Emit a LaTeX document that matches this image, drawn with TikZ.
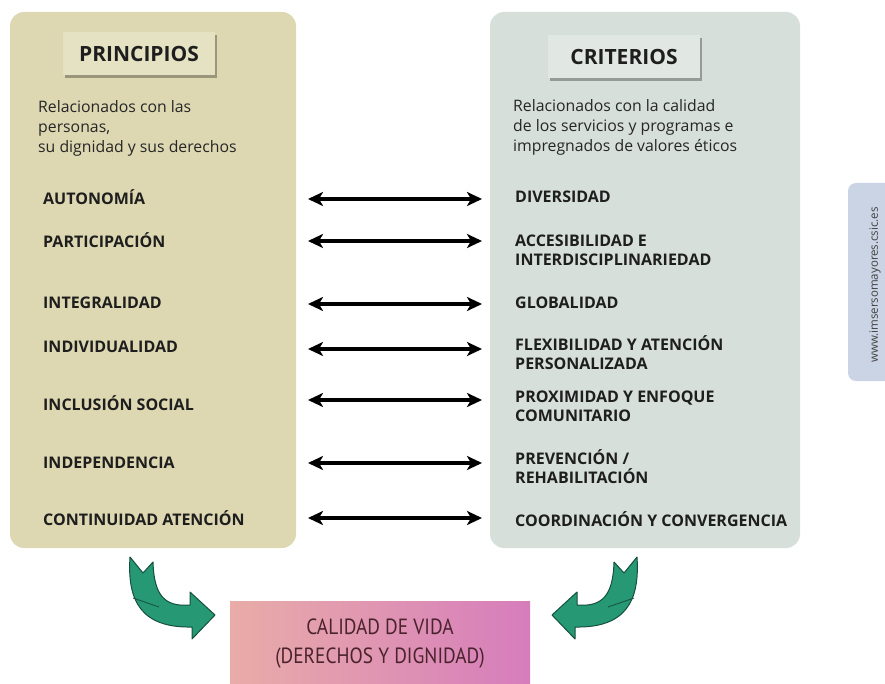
\documentclass[tikz,border=0pt]{standalone}
\usepackage{fontspec}
\setmainfont{Open Sans}
\newfontfamily\condfont[FakeStretch=0.88]{PT Sans}
\usetikzlibrary{arrows.meta,shadows}
\definecolor{princbeige}{RGB}{221,216,178}
\definecolor{princtitle}{RGB}{229,225,195}
\definecolor{critgray}{RGB}{214,223,218}
\definecolor{crittitle}{RGB}{225,232,227}
\definecolor{swooshgreen}{RGB}{38,152,116}
\definecolor{swooshline}{RGB}{22,80,62}
\definecolor{lifepink}{RGB}{233,172,168}
\definecolor{lifemagenta}{RGB}{214,125,188}
\definecolor{lifetext}{RGB}{75,35,45}
\definecolor{urlblue}{RGB}{203,212,228}
\definecolor{itemtext}{RGB}{30,30,30}

\begin{document}
\begin{tikzpicture}[x=1pt,y=-1pt,
    panel/.style={rounded corners=14pt,inner sep=0pt},
    titlebox/.style={inner sep=0pt,minimum width=152pt,minimum height=43pt,
        font=\fontsize{21}{25}\selectfont\bfseries,text=itemtext,
        drop shadow={shadow xshift=2pt,shadow yshift=-3pt,opacity=0.3,fill=black}},
    bodytext/.style={anchor=west,align=left,inner sep=0pt,
        font=\fontsize{15.8}{20}\selectfont,text=black!85},
    item/.style={anchor=west,align=left,inner sep=0pt,
        font=\fontsize{16}{19}\selectfont\bfseries,text=itemtext},
    biarrow/.style={line width=3.5pt,
        {Stealth[length=15pt,width=14pt,inset=4pt]}-{Stealth[length=15pt,width=14pt,inset=4pt]}},
    swoosh/.style={fill=swooshgreen,draw=swooshline,line width=1pt,line join=round}]

    \useasboundingbox (0,0) rectangle (885,684);

    % Panels
    \node[panel,fill=princbeige,minimum width=286pt,minimum height=536pt] (princpanel) at (153,280) {};
    \node[panel,fill=critgray,minimum width=310pt,minimum height=536pt] (critpanel) at (645,280) {};

    % Titles
    \node[titlebox,fill=princtitle] (princtitle) at (139,54) {PRINCIPIOS};
    \node[titlebox,fill=crittitle] (crittitle) at (624,57) {CRITERIOS};

    % Descriptions
    \node[bodytext] (princdesc) at (38,128) {Relacionados con las\\personas,\\su dignidad y sus derechos};
    \node[bodytext] (critdesc) at (513,127) {Relacionados con la calidad\\de los servicios y programas e\\impregnados de valores éticos};

    % Principios
    \node[item] (p1) at (43,197) {AUTONOMÍA};
    \node[item] (p2) at (43,240) {PARTICIPACIÓN};
    \node[item] (p3) at (43,303) {INTEGRALIDAD};
    \node[item] (p4) at (43,347) {INDIVIDUALIDAD};
    \node[item] (p5) at (43,403) {INCLUSIÓN SOCIAL};
    \node[item] (p6) at (43,463) {INDEPENDENCIA};
    \node[item] (p7) at (43,518) {CONTINUIDAD ATENCIÓN};

    % Criterios
    \node[item] (c1) at (515,197) {DIVERSIDAD};
    \node[item] (c2) at (515,250) {ACCESIBILIDAD E\\INTERDISCIPLINARIEDAD};
    \node[item] (c3) at (515,303) {GLOBALIDAD};
    \node[item] (c4) at (515,353) {FLEXIBILIDAD Y ATENCIÓN\\PERSONALIZADA};
    \node[item] (c5) at (515,406) {PROXIMIDAD Y ENFOQUE\\COMUNITARIO};
    \node[item] (c6) at (515,467) {PREVENCIÓN /\\REHABILITACIÓN};
    \node[item] (c7) at (515,519) {COORDINACIÓN Y CONVERGENCIA};

    % Double arrows between columns
    \foreach \y [count=\i] in {199,241,304,349,400,463,518} {
        \coordinate (la\i) at (308,\y);
        \coordinate (ra\i) at (482,\y);
        \draw[biarrow] (la\i) -- (ra\i);
    }

    % Result box
    \node[left color=lifepink,right color=lifemagenta,minimum width=300pt,minimum height=86pt,
        text=lifetext,align=center,font=\condfont\fontsize{22}{29}\selectfont] (life) at (380,644)
        {CALIDAD DE VIDA\\(DERECHOS Y DIGNIDAD)};

    % Curved arrows
    \filldraw[swoosh] (130,557) .. controls (127,602) and (142,628) .. (192,627) -- (192,639)
        -- (215,615) -- (190,592) -- (190,605) .. controls (165,607) and (154,596) .. (153,562)
        -- (143,573) -- cycle;
    \draw[swooshline,line width=0.8pt] (133,598) -- (159,607);
    \begin{scope}[xshift=767pt,xscale=-1]
        \filldraw[swoosh] (130,557) .. controls (127,602) and (142,628) .. (192,627) -- (192,639)
            -- (215,615) -- (190,592) -- (190,605) .. controls (165,607) and (154,596) .. (153,562)
            -- (143,573) -- cycle;
        \draw[swooshline,line width=0.8pt] (133,598) -- (159,607);
    \end{scope}

    % Web label
    \node[rounded corners=8pt,fill=urlblue,minimum width=60pt,minimum height=198pt] (urlbox) at (878,282) {};
    \node[rotate=90,font=\fontsize{11.5}{14}\selectfont,text=black!75] (url) at (875,285) {www.imsersomayores.csic.es};
\end{tikzpicture}
\end{document}
